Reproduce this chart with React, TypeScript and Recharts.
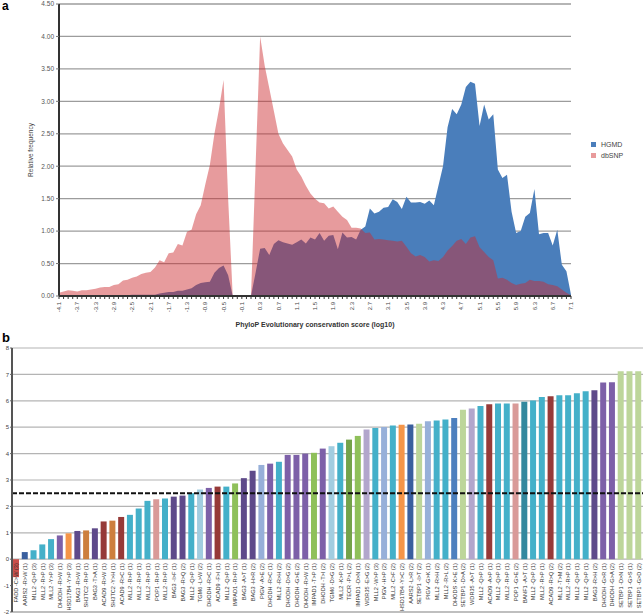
import React from 'react';
import { AreaChart, Area, BarChart, Bar, XAxis, YAxis, CartesianGrid, ReferenceLine, Cell } from 'recharts';

// ---- panel a: PhyloP score distribution ----
const phyloScores = [
  '-4.1', '-4.0', '-3.9', '-3.8', '-3.7', '-3.6', '-3.5', '-3.4', '-3.3', '-3.2',
  '-3.1', '-3.0', '-2.9', '-2.8', '-2.7', '-2.6', '-2.5', '-2.4', '-2.3', '-2.2',
  '-2.1', '-2.0', '-1.9', '-1.8', '-1.7', '-1.6', '-1.5', '-1.4', '-1.3', '-1.2',
  '-1.1', '-1.0', '-0.9', '-0.8', '-0.7', '-0.6', '-0.5', '-0.4', '-0.3', '-0.2',
  '-0.1', '0.0', '0.1', '0.2', '0.3', '0.4', '0.5', '0.6', '0.7', '0.8',
  '0.9', '1.0', '1.1', '1.2', '1.3', '1.4', '1.5', '1.6', '1.7', '1.8',
  '1.9', '2.0', '2.1', '2.2', '2.3', '2.4', '2.5', '2.6', '2.7', '2.8',
  '2.9', '3.0', '3.1', '3.2', '3.3', '3.4', '3.5', '3.6', '3.7', '3.8',
  '3.9', '4.0', '4.1', '4.2', '4.3', '4.4', '4.5', '4.6', '4.7', '4.8',
  '4.9', '5.0', '5.1', '5.2', '5.3', '5.4', '5.5', '5.6', '5.7', '5.8',
  '5.9', '6.0', '6.1', '6.2', '6.3', '6.4', '6.5', '6.6', '6.7', '6.8',
  '6.9', '7.0', '7.1',
];

const hgmdFreq = [
  0.01, 0.01, 0.01, 0.01, 0.01, 0.01, 0.01, 0.01, 0.01, 0.01,
  0.01, 0.01, 0.01, 0.01, 0.01, 0.01, 0.02, 0.02, 0.02, 0.02,
  0.02, 0.02, 0.04, 0.05, 0.06, 0.06, 0.08, 0.08, 0.1, 0.12,
  0.17, 0.2, 0.21, 0.22, 0.36, 0.43, 0.47, 0.32, 0, 0,
  0, 0, 0, 0.36, 0.73, 0.74, 0.63, 0.8, 0.86, 0.83,
  0.81, 0.79, 0.83, 0.87, 0.81, 0.9, 0.87, 0.97, 0.85, 0.93,
  0.94, 0.72, 0.98, 0.9, 0.91, 0.87, 1.02, 1.07, 1.35, 1.27,
  1.3, 1.36, 1.37, 1.49, 1.45, 1.34, 1.53, 1.44, 1.44, 1.45,
  1.42, 1.47, 1.4, 1.7, 2.0, 2.6, 2.88, 2.8, 2.95, 3.22,
  3.3, 3.27, 2.62, 2.95, 2.72, 2.8, 1.95, 1.82, 1.87, 1.3,
  0.97, 1.0, 1.22, 1.28, 1.65, 0.95, 0.97, 0.97, 0.78, 1.02,
  0.48, 0.38, 0.02,
];

const dbsnpFreq = [
  0.05, 0.07, 0.09, 0.08, 0.07, 0.09, 0.09, 0.1, 0.11, 0.13,
  0.14, 0.14, 0.17, 0.18, 0.24, 0.25, 0.28, 0.3, 0.34, 0.36,
  0.37, 0.44, 0.55, 0.52, 0.66, 0.67, 0.8, 0.78, 0.99, 1.02,
  1.26, 1.4, 1.72, 2.02, 2.5, 2.88, 3.33, 1.5, 0, 0,
  0, 0, 0, 2.0, 4.0, 3.55, 3.2, 2.85, 2.5, 2.35,
  2.25, 2.15, 1.95, 1.84, 1.7, 1.58, 1.5, 1.44, 1.43, 1.35,
  1.38, 1.3, 1.22, 1.17, 1.05, 1.05, 1.04, 0.97, 0.98, 0.87,
  0.88, 0.87, 0.86, 0.85, 0.84, 0.85, 0.76, 0.66, 0.61, 0.63,
  0.6, 0.53, 0.55, 0.54, 0.6, 0.7, 0.77, 0.85, 0.88, 0.8,
  0.9, 0.92, 0.75, 0.68, 0.6, 0.55, 0.27, 0.28, 0.25, 0.2,
  0.17, 0.19, 0.2, 0.25, 0.23, 0.23, 0.22, 0.18, 0.17, 0.15,
  0.1, 0.05, 0.01,
];

const freqTicks = [0, 0.5, 1, 1.5, 2, 2.5, 3, 3.5, 4, 4.5];

// ---- panel b: scores of individual variants ----
const variantLabels = [
  'FADD -C>W (3)', 'AARS2 -R>W (1)', 'MLL2 -Q>P (3)', 'MLL2 -R>P (1)', 'MLL2 -Y>P (3)',
  'DHODH -R>W (1)', 'HSD17B4 -Y>P (3)', 'BAG3 -R>W (1)', 'SH3TC2 -R>P (1)', 'BAG3 -T>A (1)',
  'ACAD9 -R>W (1)', 'SH3TC2 -Y>H (1)', 'ACAD9 -R>C (1)', 'MLL2 -R>P (1)', 'MLL2 -R>P (1)',
  'MLL2 -R>P (1)', 'POP1 -R>P (1)', 'MLL2 -R>P (1)', 'BAG3 -I>F (1)', 'BAG3 -R>Q (2)',
  'MLL2 -Q>P (1)', 'TGM6 -L>W (2)', 'DHODH -R>C (1)', 'ACAD9 -F>I (1)', 'MLL2 -Q>P (1)',
  'IMPAD1 -R>P (1)', 'BAG3 -A>T (1)', 'BAG3 -H>R (2)', 'PIGV -A>E (2)', 'DHODH -R>C (1)',
  'MLL2 -R>H (2)', 'DHODH -D>G (2)', 'DHODH -G>E (2)', 'DHODH -R>W (1)', 'IMPAD1 -T>P (1)',
  'DHODH -T>I (2)', 'TGM6 -D>G (2)', 'MLL2 -K>P (1)', 'TECR -P>L (2)', 'IMPAD1 -D>N (1)',
  'WDR35 -E>G (2)', 'MLL2 -W>P (3)', 'PIGV -H>P (2)', 'MLL2 -C>F (2)', 'HSD17B4 -Y>C (2)',
  'AARS2 -L>R (2)', 'SETBP1 -I>T (2)', 'PIGV -G>K (1)', 'MLL2 -R>H (2)', 'MLL2 -R>L (2)',
  'DHODS -K>E (1)', 'SETBP1 -D>A (2)', 'WDR35 -A>T (1)', 'MLL2 -Q>P (1)', 'ACAD9 -A>P (1)',
  'MLL2 -Q>P (1)', 'MLL2 -R>P (1)', 'POP1 -G>E (2)', 'BANF1 -A>T (1)', 'MLL2 -Q>P (1)',
  'MLL2 -R>P (1)', 'ACAD9 -R>Q (2)', 'MLL2 -T>M (2)', 'MLL2 -R>P (1)', 'MLL2 -Q>P (1)',
  'MLL2 -Q>P (1)', 'BAG3 -R>H (2)', 'DHODH -G>R (1)', 'DHODH -G>A (2)', 'SETBP1 -D>N (1)',
  'SETBP1 -G>S (1)', 'SETBP1 -G>D (2)',
];

const variantScores = [
  -0.68, 0.27, 0.34, 0.56, 0.76, 0.9, 0.98, 1.07, 1.09, 1.17,
  1.43, 1.46, 1.6, 1.68, 1.92, 2.21, 2.27, 2.3, 2.37, 2.41,
  2.5, 2.64, 2.7, 2.75, 2.75, 2.87, 3.07, 3.35, 3.57, 3.62,
  3.69, 3.95, 3.95, 4.0, 4.03, 4.19, 4.28, 4.41, 4.53, 4.67,
  4.91, 4.97, 5.01, 5.06, 5.09, 5.1, 5.13, 5.23, 5.25, 5.29,
  5.35, 5.66, 5.71, 5.8, 5.87, 5.9, 5.9, 5.9, 5.96, 6.01,
  6.14, 6.17, 6.21, 6.21, 6.29, 6.36, 6.4, 6.69, 6.7, 7.12,
  7.12, 7.12,
];

const scoreTicks = [-2, -1, 0, 1, 2, 3, 4, 5, 6, 7, 8];
const scoreGrid = [-2, 0, 1, 2, 3, 4, 5, 6, 7, 8];
const cutoff = 2.5;

// colour per gene
const geneColors: Record<string, string> = {
  FADD: '#c9504c',
  AARS2: '#3a5f9e',
  MLL2: '#44b0c9',
  DHODH: '#7d60a8',
  HSD17B4: '#f59548',
  BAG3: '#5e4a8a',
  SH3TC2: '#cd7f3e',
  ACAD9: '#963a38',
  POP1: '#d99a98',
  TGM6: '#a2cde0',
  IMPAD1: '#8fc05a',
  PIGV: '#97b0d9',
  TECR: '#74a34a',
  WDR35: '#b2a6cc',
  SETBP1: '#bdd69a',
  DHODS: '#4c7fbe',
  BANF1: '#33889e',
};

const legendItems = [
  { name: 'HGMD', color: '#4a7ebb' },
  { name: 'dbSNP', color: '#e89a9b' },
];

const distData = phyloScores.map((s, i) => ({ score: s, hgmd: hgmdFreq[i], dbsnp: dbsnpFreq[i] }));
const variantData = variantLabels.map((l, i) => ({ label: l, value: variantScores[i] }));

const FONT = '"Liberation Sans", Arial, sans-serif';

// panel b geometry: plot top 8, plot height 264, domain -2..8
const B_TOP = 8;
const B_PLOT_H = 264;
const B_ZERO_Y = B_TOP + B_PLOT_H * 0.8;

const ScoreTick = ({ x, y, payload, index }: any) => {
  if (index % 4 !== 0) return null;
  return (
    <text x={x} y={y + 1} transform={`rotate(-90 ${x} ${y + 1})`} textAnchor="end" dy="0.35em" fontSize={6} fill="#444">
      {payload.value}
    </text>
  );
};

const VariantTick = ({ x, payload }: any) => {
  const ty = B_ZERO_Y + 4;
  return (
    <text x={x} y={ty} transform={`rotate(-90 ${x} ${ty})`} textAnchor="end" dy="0.35em" fontSize={5.6} fill="#333">
      {payload.value}
    </text>
  );
};

export default function App() {
  return (
    <div style={{ position: 'absolute', left: 0, top: 0, width: 644, height: 616, background: '#fff', fontFamily: FONT, overflow: 'hidden' }}>
      <div style={{ position: 'absolute', left: 2, top: 0, fontSize: 12, lineHeight: '12px', fontWeight: 700 }}>a</div>
      <div style={{ position: 'absolute', left: 2, top: 331, fontSize: 13, lineHeight: '13px', fontWeight: 700 }}>b</div>

      {/* y axis title panel a */}
      <div style={{ position: 'absolute', left: 30, top: 150, fontSize: 6.5, color: '#444', transform: 'translate(-50%, -50%) rotate(-90deg)', whiteSpace: 'nowrap' }}>
        Relative frequency
      </div>
      {/* x axis title panel a */}
      <div style={{ position: 'absolute', left: 315, top: 321, fontSize: 7, fontWeight: 700, color: '#333', transform: 'translateX(-50%)', whiteSpace: 'nowrap' }}>
        PhyloP Evolutionary conservation score (log10)
      </div>

      {/* legend panel a */}
      <div style={{ position: 'absolute', left: 591, top: 139, fontSize: 7, color: '#444', lineHeight: '11px' }}>
        {legendItems.map((it) => (
          <div key={it.name} style={{ display: 'flex', alignItems: 'center' }}>
            <span style={{ width: 5, height: 5, background: it.color, marginRight: 5, display: 'inline-block' }} />
            {it.name}
          </div>
        ))}
      </div>

      <div style={{ position: 'absolute', left: 0, top: 0 }}>
        <AreaChart width={644} height={318} data={distData} margin={{ top: 4, right: 73, bottom: 0, left: 0 }}>
          <CartesianGrid vertical={false} stroke="#9c9c9c" strokeWidth={1.3} />
          <XAxis
            dataKey="score"
            interval={0}
            height={22}
            tick={<ScoreTick />}
            tickSize={3}
            tickLine={{ stroke: '#333' }}
            axisLine={{ stroke: '#333', strokeWidth: 2 }}
          />
          <YAxis
            width={59}
            domain={[0, 4.5]}
            ticks={freqTicks}
            tickFormatter={(v: number) => v.toFixed(2)}
            tick={{ fontSize: 6.5, fill: '#555' }}
            tickSize={3}
            tickLine={{ stroke: '#777' }}
            axisLine={{ stroke: '#333', strokeWidth: 2 }}
          />
          <Area type="linear" dataKey="hgmd" name="HGMD" stroke="none" fill="#4a7ebb" fillOpacity={1} isAnimationActive={false} />
          <Area type="linear" dataKey="dbsnp" name="dbSNP" stroke="none" fill="#cd2a2e" fillOpacity={0.47} isAnimationActive={false} />
        </AreaChart>
      </div>

      <div style={{ position: 'absolute', left: 0, top: 340 }}>
        <BarChart width={644} height={276} data={variantData} margin={{ top: B_TOP, right: 1, bottom: 0, left: 0 }} barSize={6}>
          <CartesianGrid vertical={false} horizontalValues={scoreGrid} stroke="#b4b4b4" strokeWidth={1.2} />
          <XAxis dataKey="label" interval={0} height={4} tick={<VariantTick />} tickLine={false} axisLine={{ stroke: '#aaa', strokeWidth: 1.5 }} />
          <YAxis
            width={12}
            domain={[-2, 8]}
            ticks={scoreTicks}
            tick={{ fontSize: 6, fill: '#444' }}
            tickSize={2}
            tickMargin={1}
            tickLine={{ stroke: '#666' }}
            axisLine={{ stroke: '#555', strokeWidth: 2 }}
          />
          <Bar dataKey="value" isAnimationActive={false}>
            {variantData.map((d, i) => (
              <Cell key={`v-${i}`} fill={geneColors[d.label.split(' ')[0]]} />
            ))}
          </Bar>
          <ReferenceLine y={cutoff} stroke="#111" strokeWidth={2} strokeDasharray="5 2" />
        </BarChart>
      </div>
    </div>
  );
}
